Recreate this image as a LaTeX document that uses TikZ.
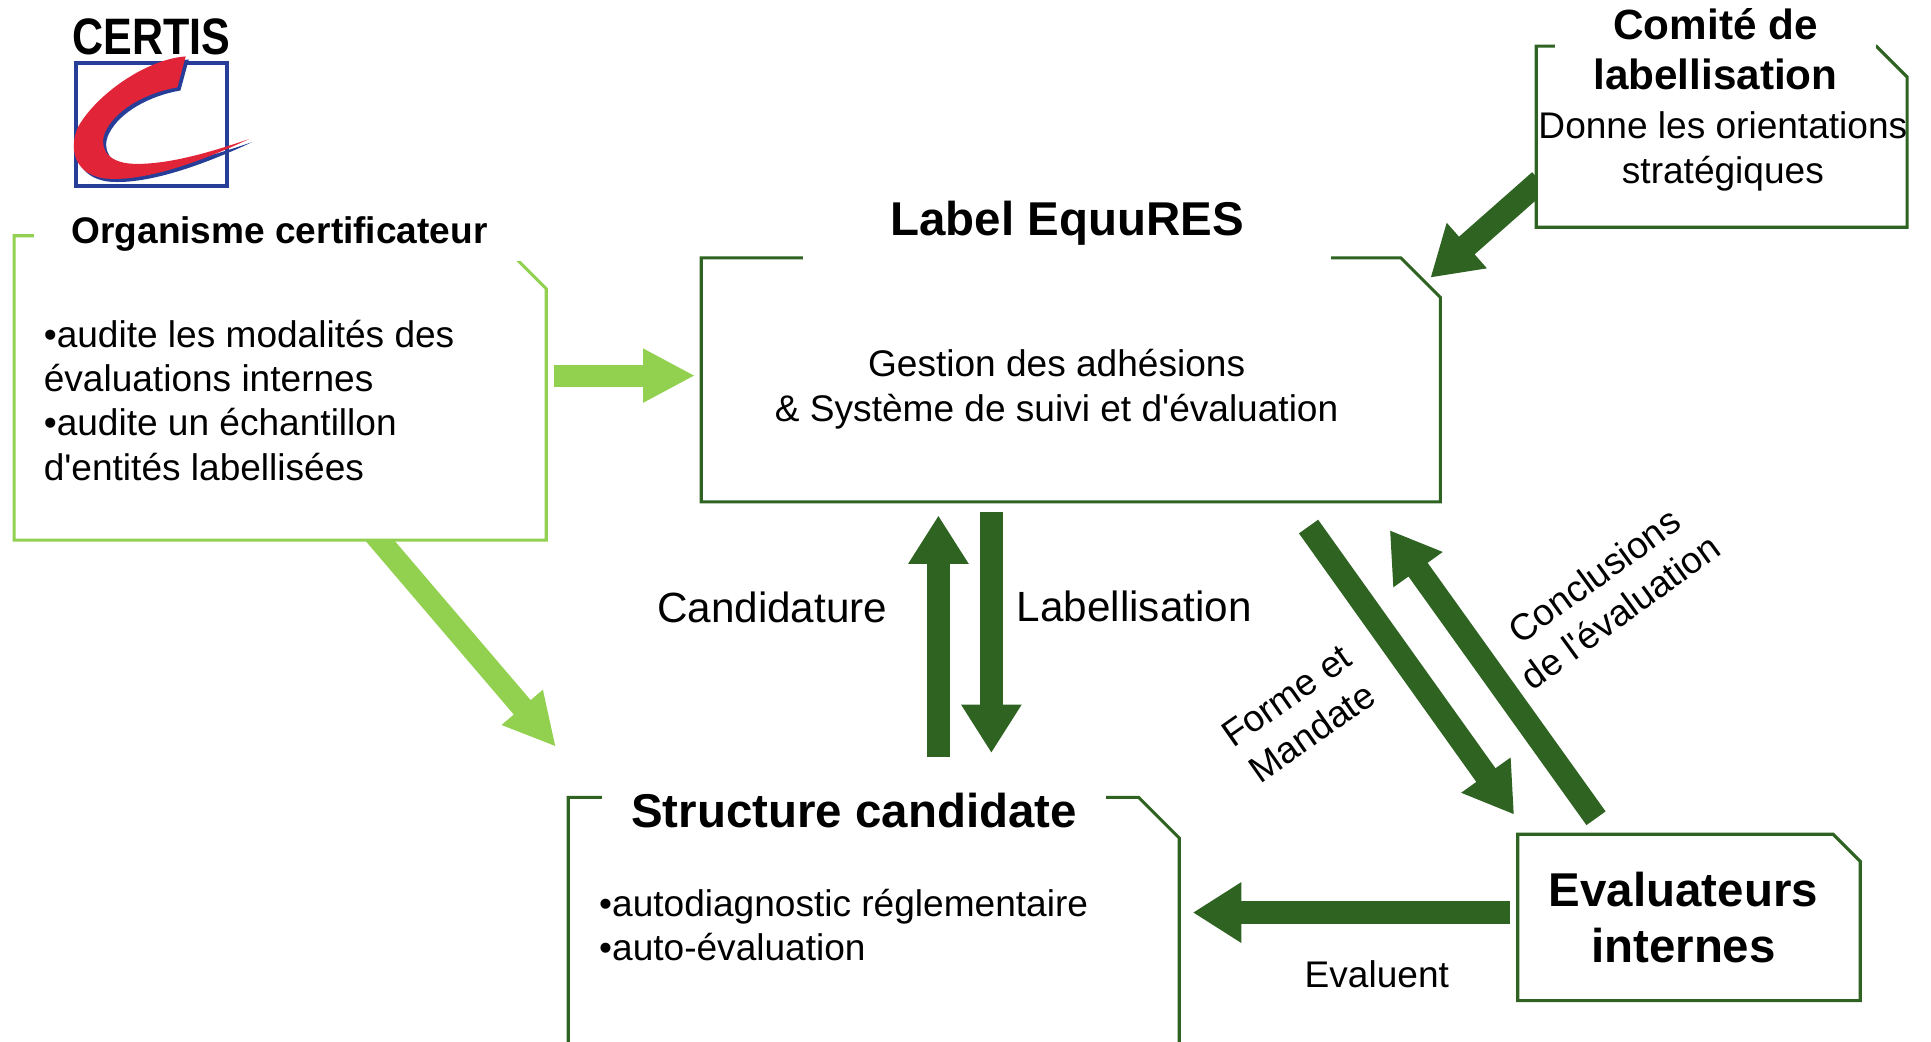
\documentclass[tikz,border=0pt]{standalone}
\usepackage{fontspec}
\setmainfont{Liberation Sans}
\usepackage{xcolor}
\usetikzlibrary{arrows.meta, calc, positioning}

\definecolor{lightgreen}{RGB}{146,208,80}
\definecolor{darkgreen}{RGB}{46,99,33}
\definecolor{certisred}{RGB}{226,36,56}
\definecolor{certisblue}{RGB}{38,62,152}
\newcommand{\px}{0.0125cm}

\begin{document}
\begin{tikzpicture}[x=0.0125cm, y=-0.0125cm]
    % Styles for the boxes and arrows
    \tikzstyle{box}=[rectangle, inner sep=0pt]
    \tikzstyle{cover}=[fill=white, inner sep=0pt, align=center]
    \tikzstyle{body}=[inner sep=0pt, font=\fontsize{10.7}{12.8}\selectfont]
    \tikzstyle{big title}=[font=\bfseries\fontsize{13.7}{16.3}\selectfont]
    \tikzstyle{fat arrow}=[-{Triangle[length=14pt, width=16.5pt]}, line width=6.8pt, darkgreen]
    \tikzstyle{light arrow}=[-{Triangle[length=15pt, width=14.5pt]}, line width=6.4pt, lightgreen]

    \useasboundingbox (0,0) rectangle (1568,846);

    % CERTIS logo
    \node[font=\bfseries\fontsize{14.8}{15}\selectfont, xscale=0.84, inner sep=0pt] (certis) at (123,30) {CERTIS};
    \draw[certisblue, line width=1.1pt] (62,51) rectangle (184,151);
    \fill[certisblue, shift={(2.5,2.5)}] (150.8,45.8) .. controls (120,48) and (80,75) .. (64,102)
        .. controls (55,120) and (60,142) .. (86,145) .. controls (120,148) and (170,128) .. (202,113)
        .. controls (170,124) and (135,134) .. (108,133) .. controls (85,132) and (80,118) .. (86,106)
        .. controls (95,88) and (120,75) .. (144,71) -- cycle;
    \fill[certisred] (150.8,45.8) .. controls (120,48) and (80,75) .. (64,102)
        .. controls (55,120) and (60,142) .. (86,145) .. controls (120,148) and (170,128) .. (202,113)
        .. controls (170,124) and (135,134) .. (108,133) .. controls (85,132) and (80,118) .. (86,106)
        .. controls (95,88) and (120,75) .. (144,71) -- cycle;

    % Place the boxes
    \node[box, minimum width=431*\px, minimum height=246*\px] (orgbox) at (227.5,315) {};
    \node[box, minimum width=599*\px, minimum height=197*\px] (label) at (869.5,308.5) {};
    \node[box, minimum width=495*\px, minimum height=222*\px] (struct) at (709.5,759) {};
    \node[box, minimum width=277*\px, minimum height=134*\px] (eval) at (1371.5,745) {};
    \node[box, minimum width=300*\px, minimum height=146*\px] (comite) at (1398,111) {};

    % Draw the arrows (the boxes are filled on top of their tails)
    \draw[light arrow] ($(orgbox.east)+(6,-10)$) -- ($(label.west)+(-5,-3.5)$);
    \draw[light arrow] ($(orgbox.south)+(69.5,-13)$) -- ($(struct.north west)+(-10,-41)$);
    \draw[fat arrow] ($(comite.west)+(3,36)$) -- ($(label.north east)+(-8,16)$);
    \draw[fat arrow] ($(struct.north)+(52.5,-33)$) -- ($(label.south)+(-107.5,11)$);
    \draw[fat arrow] ($(label.south)+(-64.5,8)$) -- ($(struct.north)+(95.5,-36)$);
    \draw[fat arrow] ($(label.south east)+(-107,20)$) -- ($(eval.north west)+(-3,-16)$);
    \draw[fat arrow] ($(eval.north)+(-75.5,-13)$) -- ($(label.south east)+(-41,23)$);
    \draw[fat arrow] ($(eval.west)+(-6,-4)$) -- ($(struct.east)+(11,-18)$);

    % Draw the outlines with the snipped corner
    \foreach \b/\c/\s in {orgbox/lightgreen/43, label/darkgreen/32, struct/darkgreen/33,
                          eval/darkgreen/22, comite/darkgreen/25}
        \draw[\c, fill=white, line width=0.9pt] (\b.south west) -- (\b.north west) -- ($(\b.north east)+(-\s,0)$)
            -- ($(\b.north east)+(0,\s)$) -- (\b.south east) -- cycle;

    % Titles sitting on the top edges
    \node[cover, minimum width=398*\px, minimum height=44*\px, font=\bfseries\fontsize{10.7}{12.8}\selectfont] (orgtitle) at (227,190) {Organisme certificateur};
    \node[cover, big title, minimum width=429*\px, minimum height=62*\px] (labeltitle) at (866.5,181) {Label EquuRES};
    \node[cover, big title, minimum width=409*\px, minimum height=40*\px] (structtitle) at (693.5,658) {Structure candidate};
    \node[cover, minimum width=261*\px, minimum height=76*\px, font=\bfseries\fontsize{12.2}{14.5}\selectfont] (comitetitle) at (1393,40) {Comité de\\labellisation};

    % Texts inside the boxes
    \node[body, anchor=west, align=left] (orgtext) at (35,325) {•audite les modalités des\\évaluations internes\\•audite un échantillon\\d\textquotesingle entités labellisées};
    \node[body, align=center] (labeltext) at (858,316) {Gestion des adhésions\\\& Système de suivi et d\textquotesingle évaluation};
    \node[body, anchor=west, align=left] (structtext) at (486,751) {•autodiagnostic réglementaire\\•auto-évaluation};
    \node[body, align=center] (comitetext) at (1399,123) {Donne les orientations\\stratégiques};
    \node[big title, align=center] (evaltext) at (1367,745) {Evaluateurs\\internes};

    % Arrow labels
    \node[font=\fontsize{12.2}{14}\selectfont] (cand) at (627,493) {Candidature};
    \node[font=\fontsize{12.2}{14}\selectfont] (labl) at (921,492) {Labellisation};
    \node[body] (evaluent) at (1118,791) {Evaluent};
    \node[body, align=center, rotate=35] (forme) at (1055,580) {Forme et\\Mandate};
    \node[body, align=center, rotate=36] (concl) at (1305,482) {Conclusions\\de l\textquotesingle évaluation};
\end{tikzpicture}
\end{document}
